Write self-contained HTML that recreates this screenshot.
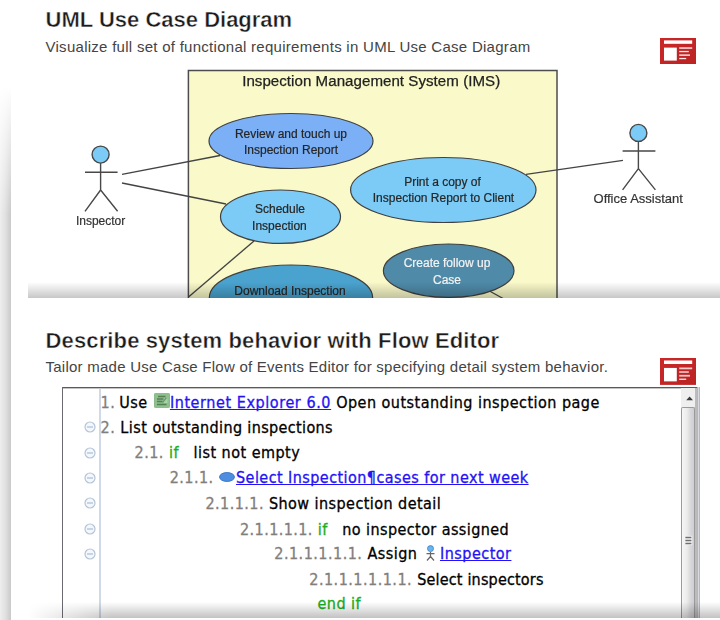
<!DOCTYPE html>
<html lang="en">
<head>
<meta charset="utf-8">
<title>UML Use Case Diagram</title>
<style>
html,body{margin:0;padding:0;background:#fff;}
body{width:720px;height:620px;position:relative;overflow:hidden;font-family:"Liberation Sans",sans-serif;}
.abs{position:absolute;}
h2{position:absolute;margin:0;left:45.6px;font:bold 22px/26px "Liberation Sans",sans-serif;color:#1b1b1b;-webkit-text-stroke:.42px #fff;white-space:nowrap;}
p.sub{position:absolute;margin:0;left:45.5px;font:15px/18px "Liberation Sans",sans-serif;color:#444;white-space:nowrap;}
#lshadow{left:0;top:86px;width:11.2px;height:534px;background:linear-gradient(to right,#eeeeee 0%,#e0e0e0 50%,#c9c9c9 100%);-webkit-mask-image:linear-gradient(to bottom,transparent 0,#000 128px);mask-image:linear-gradient(to bottom,transparent 0,#000 128px);}
#dia{left:28px;top:62px;width:692px;height:235.5px;overflow:hidden;}
#dshadow{left:28px;top:282px;width:692px;height:15.5px;background:linear-gradient(to bottom,rgba(0,0,0,0) 0%,rgba(0,0,0,.22) 100%);}
.icon{width:36px;height:26px;}
#flow{left:62px;top:387px;width:638px;height:230.8px;overflow:hidden;font:16px/20px "DejaVu Sans Condensed","DejaVu Sans",sans-serif;letter-spacing:.48px;color:#000;-webkit-text-stroke:.3px currentColor;}
#flow .ln{position:absolute;white-space:nowrap;height:20px;}
#flow .n{color:#827e7c;}
#flow .g{color:#20ac20;}
#flow a{color:#2412f5;text-decoration:underline;text-decoration-thickness:1.3px;text-underline-offset:1px;text-decoration-skip-ink:none;}
#fshadow{left:12px;top:602px;width:708px;height:15.8px;background:linear-gradient(to bottom,rgba(0,0,0,0) 0%,rgba(0,0,0,.24) 100%);-webkit-mask-image:linear-gradient(to right,transparent 16px,#000 100px);mask-image:linear-gradient(to right,transparent 16px,#000 100px);}
</style>
</head>
<body>
<div class="abs" id="lshadow"></div>

<h2 style="top:7.2px;letter-spacing:0;">UML Use Case Diagram</h2>
<p class="sub" style="top:38px;letter-spacing:.275px;">Visualize full set of functional requirements in UML Use Case Diagram</p>

<svg class="abs icon" style="left:660px;top:38px;" viewBox="0 0 36 26">
<defs><linearGradient id="rg" x1="0" y1="0" x2="1" y2="1"><stop offset="0" stop-color="#cb2728"/><stop offset="1" stop-color="#bb2323"/></linearGradient></defs>
<rect width="36" height="26" fill="url(#rg)"/>
<rect x="4" y="2.4" width="28.2" height="3.4" fill="#fff"/>
<rect x="4" y="9.6" width="12.8" height="13" fill="#fff"/>
<rect x="19.2" y="9.2" width="13" height="1.7" fill="#f3c9c9"/>
<rect x="19.2" y="12.9" width="9.6" height="1.3" fill="#fbe9e9"/>
<rect x="19.2" y="16.3" width="10.8" height="1.7" fill="#f3c9c9"/>
<rect x="19.2" y="19.9" width="7" height="1.3" fill="#fbe9e9"/>
</svg>

<div class="abs" id="dia">
<svg width="692" height="260" viewBox="28 62 692 260" style="display:block;filter:blur(.4px)" font-family="Liberation Sans, sans-serif">
<rect x="188.4" y="70.5" width="368.6" height="260" fill="#f9f9c9" stroke="#4c4c4c" stroke-width="1.5"/>
<text x="371.2" y="86.3" font-size="15.1" letter-spacing=".04" text-anchor="middle" fill="#222" stroke="#222" stroke-width=".25">Inspection Management System (IMS)</text>
<g stroke="#444" stroke-width="1.35" fill="none">
<line x1="122" y1="174.3" x2="220" y2="155.5"/>
<line x1="122" y1="183" x2="226" y2="204"/>
<line x1="254" y1="241" x2="188.5" y2="297"/>
<line x1="526" y1="174.4" x2="623" y2="160.3"/>
<line x1="484" y1="288" x2="504" y2="299"/>
</g>
<g stroke="#404040" stroke-width="1.2">
<ellipse cx="291" cy="141" rx="82" ry="27.5" fill="#7bb0f6"/>
<ellipse cx="280.5" cy="216.7" rx="60" ry="26.7" fill="#7bcbf6"/>
<ellipse cx="443.3" cy="190" rx="92.7" ry="32.5" fill="#7bcbf6"/>
<ellipse cx="448.7" cy="270.7" rx="65.3" ry="26.7" fill="#4f8aa8"/>
<ellipse cx="291" cy="298" rx="81.7" ry="33" fill="#4aa3cf"/>
</g>
<g font-size="12" text-anchor="middle" fill="#262626" stroke="#262626" stroke-width=".2">
<text x="291" y="137.5">Review and touch up</text>
<text x="291" y="154">Inspection Report</text>
<text x="280" y="213">Schedule</text>
<text x="279.4" y="229.5">Inspection</text>
<text x="442.5" y="186.2">Print a copy of</text>
<text x="443.5" y="202.4">Inspection Report to Client</text>
<text x="290" y="295">Download Inspection</text>
</g>
<g font-size="12" text-anchor="middle" fill="#f4f4f4" stroke="#f4f4f4" stroke-width=".2">
<text x="447" y="267.2">Create follow up</text>
<text x="447" y="283.5">Case</text>
</g>
<g stroke="#484848" stroke-width="1.4" fill="none">
<circle cx="100.6" cy="154.6" r="8.5" fill="#7bcbf6"/>
<path d="M100.6 163V190M85 172.3H117.6M100.6 190L85 211.3M100.6 190L117.6 211.3"/>
<circle cx="638.4" cy="132.9" r="8.5" fill="#7bcbf6"/>
<path d="M638.4 141.4V168.6M622.6 151H655.4M638.4 168.6L622.6 189.9M638.4 168.6L655.4 189.9"/>
</g>
<text x="100.6" y="224.5" font-size="12" text-anchor="middle" fill="#333" stroke="#333" stroke-width=".2">Inspector</text>
<text x="638.2" y="203.3" font-size="13" text-anchor="middle" fill="#333" stroke="#333" stroke-width=".2">Office Assistant</text>
</svg>
</div>
<div class="abs" id="dshadow"></div>

<h2 style="top:327.8px;letter-spacing:.12px;">Describe system behavior with Flow Editor</h2>
<p class="sub" style="top:358px;letter-spacing:.245px;">Tailor made Use Case Flow of Events Editor for specifying detail system behavior.</p>

<svg class="abs icon" style="left:660px;top:358px;height:26.9px;" viewBox="0 0 36 26" preserveAspectRatio="none">
<rect width="36" height="26" fill="url(#rg)"/>
<rect x="4" y="2.4" width="28.2" height="3.4" fill="#fff"/>
<rect x="4" y="9.6" width="12.8" height="13" fill="#fff"/>
<rect x="19.2" y="9.2" width="13" height="1.7" fill="#f3c9c9"/>
<rect x="19.2" y="12.9" width="9.6" height="1.3" fill="#fbe9e9"/>
<rect x="19.2" y="16.3" width="10.8" height="1.7" fill="#f3c9c9"/>
<rect x="19.2" y="19.9" width="7" height="1.3" fill="#fbe9e9"/>
</svg>

<div class="abs" id="flow">
<div class="abs" style="left:0;top:0;width:636px;height:1.3px;background:#5a5a5a;"></div>
<div class="abs" style="left:1px;top:1.3px;width:618px;height:1.1px;background:#c4c4c4;"></div>
<div class="abs" style="left:.3px;top:0;width:1.2px;height:232px;background:#6a6a70;"></div>
<div class="abs" style="left:37.3px;top:1.7px;width:1.4px;height:231px;background:#d0d9e7;"></div>
<div class="abs" style="left:618.8px;top:1.3px;width:15.5px;height:231px;background:#efefef;"></div>
<div class="abs" style="left:619px;top:19.6px;width:13.8px;height:213px;box-sizing:border-box;border:1px solid #9a9a9a;border-bottom:0;border-radius:2px 2px 0 0;background:linear-gradient(to right,#f6f6f6 0%,#ececec 40%,#d6d6da 75%,#cfcfd3 100%);"></div>
<div class="abs" style="left:632.8px;top:1.3px;width:2.6px;height:231px;background:#bcbcbc;"></div>
<div class="abs" style="left:635.4px;top:0;width:2.6px;height:232px;background:linear-gradient(to right,#9ea4b2,#d8dbe2 50%,#a2a8b6);"></div>
<svg class="abs" style="left:622px;top:6px" width="12" height="10" viewBox="0 0 12 10"><path d="M2.2 7.2L5.6 3.4L9 7.2z" fill="#3a3a3a"/></svg>
<svg class="abs" style="left:621.5px;top:148px" width="10" height="12" viewBox="0 0 10 12"><rect x=".6" y=".8" width="7.6" height="9.4" fill="#f4f4f4"/><path d="M1.4 2.5h6M1.4 5.5h6M1.4 8.5h6" stroke="#6e6e6e" stroke-width="1.3"/></svg>
<!--FLOW-->
<div class="ln" style="left:38.5px;top:5.7px;"><span class="n" style="margin-right:-1px">1.</span> Use<svg width="16" height="15" viewBox="0 0 16 15" style="vertical-align:-.8px;margin:0 0 0 6.3px"><rect x=".4" y=".4" width="15.2" height="14.2" rx="1" fill="#8dc08d" stroke="#7aad7a" stroke-width=".8"/><path d="M9.5 5.5h4v4.5h-4z" fill="#a9d3a9"/><path d="M4 3.4h7.5M3 6h6.5M3 8.6h5.5M3 11.6h9.5" stroke="#557f55" stroke-width="1.5" fill="none"/><path d="M12.2 5L8.5 9.5" stroke="#6a986a" stroke-width="1.2"/></svg><a style="letter-spacing:.58px">Internet Explorer 6.0</a> Open outstanding inspection page</div>
<div class="ln" style="left:38.5px;top:31.2px;"><span class="n">2.</span> List <span style="letter-spacing:.36px">outstanding inspections</span></div>
<div class="ln" style="left:72.5px;top:56.0px;"><span class="n">2.1.</span> <span class="g">if</span><span style="display:inline-block;width:14.5px"></span>list not empty</div>
<div class="ln" style="left:107.7px;top:81.4px;letter-spacing:0.44px;"><span class="n">2.1.1.</span><svg width="16" height="10" viewBox="0 0 16 10" style="vertical-align:1px;margin:0 1px 0 5.5px"><ellipse cx="8" cy="5" rx="7.5" ry="4.5" fill="#4d8ee0" stroke="#2f6cc0" stroke-width=".8"/></svg><a>Select Inspection¶cases for next week</a></div>
<div class="ln" style="left:143.5px;top:107.2px;letter-spacing:0.44px;"><span class="n">2.1.1.1.</span> Show inspection detail</div>
<div class="ln" style="left:178.0px;top:132.5px;letter-spacing:0.42px;"><span class="n">2.1.1.1.1.</span> <span class="g">if</span><span style="display:inline-block;width:14.5px"></span>no inspector assigned</div>
<div class="ln" style="left:212.3px;top:156.8px;"><span class="n">2.1.1.1.1.1.</span> Assign<svg width="11" height="16" viewBox="0 0 11 16" style="vertical-align:-2.5px;margin:0 3.5px 0 8px"><circle cx="5.5" cy="3.6" r="3" fill="#6ab4f0" stroke="#3a7fc0" stroke-width=".8"/><path d="M5.5 7v4.5M1.5 8.6h8M5.5 11.5L2 15.5M5.5 11.5L9 15.5" stroke="#666" stroke-width="1.2" fill="none"/></svg><a>Inspector</a></div>
<div class="ln" style="left:247.3px;top:182.6px;"><span class="n">2.1.1.1.1.1.1.</span> <span style="letter-spacing:.18px">Select inspectors</span></div>
<div class="ln" style="left:255.5px;top:206.7px;"><span class="g">end if</span></div>
<svg class="abs" style="left:22.0px;top:34.3px" width="12" height="12" viewBox="0 0 12 12"><circle cx="6" cy="6" r="5" fill="#f4f7fb" stroke="#b4c4d8" stroke-width="1.2"/><path d="M3 6h6" stroke="#b4c4d8" stroke-width="1.4"/></svg>
<svg class="abs" style="left:22.0px;top:59.6px" width="12" height="12" viewBox="0 0 12 12"><circle cx="6" cy="6" r="5" fill="#f4f7fb" stroke="#b4c4d8" stroke-width="1.2"/><path d="M3 6h6" stroke="#b4c4d8" stroke-width="1.4"/></svg>
<svg class="abs" style="left:22.0px;top:84.9px" width="12" height="12" viewBox="0 0 12 12"><circle cx="6" cy="6" r="5" fill="#f4f7fb" stroke="#b4c4d8" stroke-width="1.2"/><path d="M3 6h6" stroke="#b4c4d8" stroke-width="1.4"/></svg>
<svg class="abs" style="left:22.0px;top:110.2px" width="12" height="12" viewBox="0 0 12 12"><circle cx="6" cy="6" r="5" fill="#f4f7fb" stroke="#b4c4d8" stroke-width="1.2"/><path d="M3 6h6" stroke="#b4c4d8" stroke-width="1.4"/></svg>
<svg class="abs" style="left:22.0px;top:135.5px" width="12" height="12" viewBox="0 0 12 12"><circle cx="6" cy="6" r="5" fill="#f4f7fb" stroke="#b4c4d8" stroke-width="1.2"/><path d="M3 6h6" stroke="#b4c4d8" stroke-width="1.4"/></svg>
<svg class="abs" style="left:22.0px;top:160.8px" width="12" height="12" viewBox="0 0 12 12"><circle cx="6" cy="6" r="5" fill="#f4f7fb" stroke="#b4c4d8" stroke-width="1.2"/><path d="M3 6h6" stroke="#b4c4d8" stroke-width="1.4"/></svg>
<!--/FLOW-->
</div>

<div class="abs" id="fshadow"></div>
</body>
</html>
